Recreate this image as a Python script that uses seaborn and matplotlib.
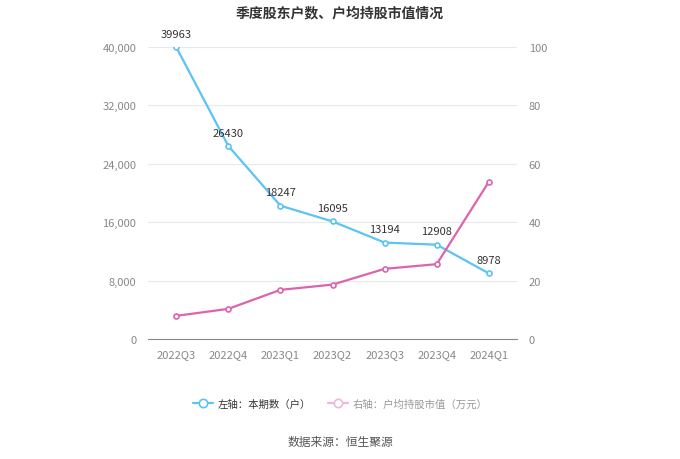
import pandas as pd
import seaborn as sns
import matplotlib.pyplot as plt
from matplotlib.lines import Line2D

quarters = ['2022Q3', '2022Q4', '2023Q1', '2023Q2', '2023Q3', '2023Q4', '2024Q1']
holders = [39963, 26430, 18247, 16095, 13194, 12908, 8978]
avg_value = [7.9, 10.3, 16.8, 18.6, 24.0, 25.6, 53.8]

df = pd.DataFrame({'quarter': quarters, 'holders': holders, 'avg_value': avg_value})
df['x'] = range(len(df))

sns.set_style('white')
plt.rcParams['font.family'] = ['Noto Sans CJK SC', 'DejaVu Sans']

blue = '#5cc3f5'
pink = '#dc64ac'
grey = '#888888'

fig = plt.figure(figsize=(6.8, 4.6), dpi=100)
ax = fig.add_axes([0.217, 0.261, 0.544, 0.635])
ax2 = ax.twinx()

sns.lineplot(data=df, x='x', y='holders', ax=ax, color=blue, linewidth=1.6,
             marker='o', markersize=3.6, markerfacecolor='white',
             markeredgecolor=blue, markeredgewidth=1.2, zorder=3)
sns.lineplot(data=df, x='x', y='avg_value', ax=ax2, color=pink, linewidth=1.6,
             marker='o', markersize=3.6, markerfacecolor='white',
             markeredgecolor=pink, markeredgewidth=1.2, zorder=3)

for xi, v in zip(df['x'], df['holders']):
    ax.annotate(str(v), (xi, v), xytext=(0, 6), textcoords='offset points',
                ha='center', va='bottom', fontsize=8, color='#333333')

ax.set_xlim(-0.55, len(quarters) - 0.45)
ax.set_ylim(0, 40000)
ax2.set_ylim(0, 100)
ax.set_yticks([0, 8000, 16000, 24000, 32000, 40000])
ax.set_yticklabels(['0', '8,000', '16,000', '24,000', '32,000', '40,000'])
ax2.set_yticks([0, 20, 40, 60, 80, 100])
ax.set_xticks(df['x'])
ax.set_xticklabels(quarters)

ax.grid(axis='y', color='#e6e9f0', linewidth=0.8)
ax.set_axisbelow(True)
for a in (ax, ax2):
    a.set_xlabel('')
    a.set_ylabel('')
    for s in ['top', 'left', 'right', 'bottom']:
        a.spines[s].set_visible(False)
    a.tick_params(axis='y', length=0, labelsize=8, labelcolor=grey, pad=8)
ax.spines['bottom'].set_visible(True)
ax.spines['bottom'].set_color('#888888')
ax.tick_params(axis='x', length=4, color='#888888', labelsize=8, labelcolor=grey, pad=3)

fig.text(0.5, 0.972, '季度股东户数、户均持股市值情况', ha='center', va='center',
         fontsize=10, fontweight='bold', color='#333333')

handles = [
    Line2D([], [], color=blue, marker='o', markersize=6, markerfacecolor='white',
           markeredgecolor=blue, markeredgewidth=1.2, linewidth=1.6),
    Line2D([], [], color='#f0b8d8', marker='o', markersize=6, markerfacecolor='white',
           markeredgecolor='#f0b8d8', markeredgewidth=1.2, linewidth=1.6),
]
leg = fig.legend(handles, ['左轴：本期数（户）', '右轴：户均持股市值（万元）'],
                 loc='center', bbox_to_anchor=(0.5, 0.12), ncol=2, frameon=False,
                 fontsize=7.5, handlelength=2.0, columnspacing=1.6, handletextpad=0.4)
leg.get_texts()[0].set_color('#333333')
leg.get_texts()[1].set_color('#999999')

fig.text(0.5, 0.037, '数据来源：恒生聚源', ha='center', va='center', fontsize=8.5, color='#555555')

plt.savefig('out.png', dpi=100)
